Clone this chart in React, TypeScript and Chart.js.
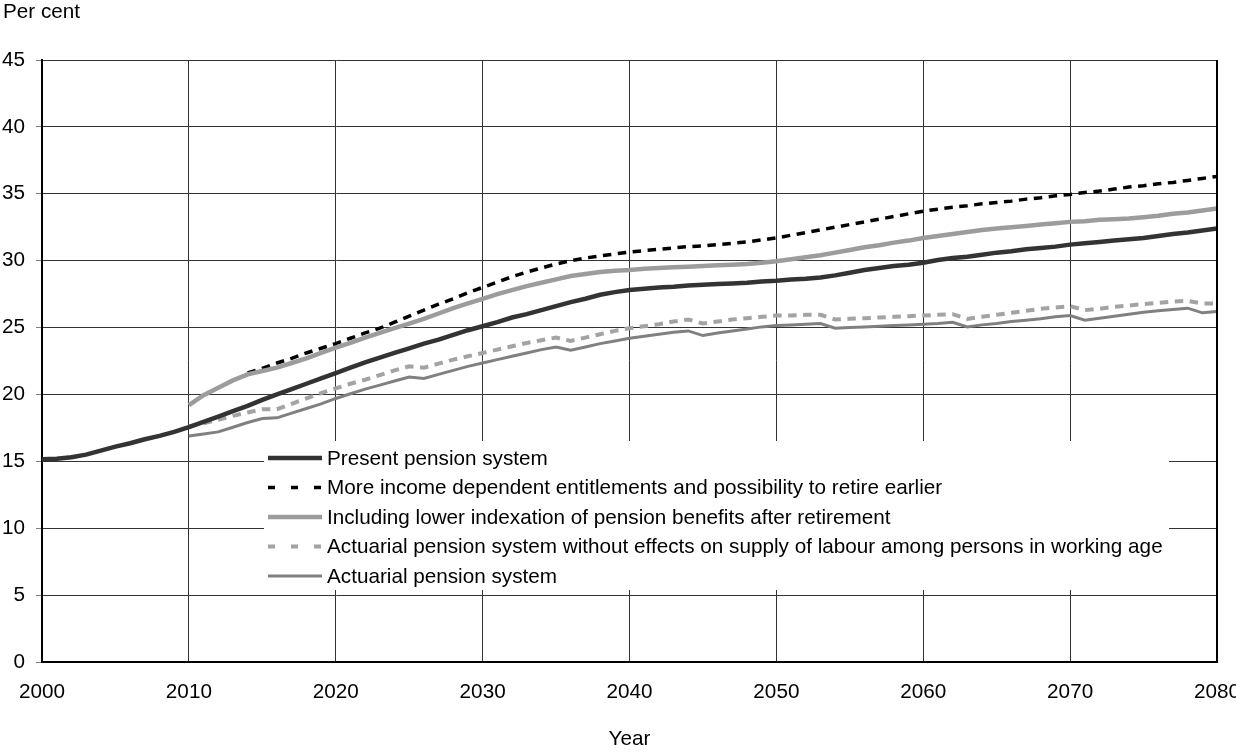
import React, { useEffect, useRef } from "react";
import { Chart, registerables } from "chart.js";

Chart.register(...registerables);

const FONT = "'Liberation Sans', Arial, Helvetica, sans-serif";
const FS = 20.7;

const YEARS: number[] = Array.from({ length: 81 }, (_, i) => 2000 + i);
const Y_TITLE = "Per cent";
const X_TITLE = "Year";
const Y_MIN = 0;
const Y_MAX = 45;
const Y_STEP = 5;
const X_STEP = 10;

const SERIES_NAMES = [
  "Present pension system",
  "More income dependent entitlements and possibility to retire earlier",
  "Including lower indexation of pension benefits after retirement",
  "Actuarial pension system without effects on supply of labour among persons in working age",
  "Actuarial pension system",
];

const N = null;

// 2000–2080
const PRESENT = [
  15.15, 15.2, 15.3, 15.5, 15.8, 16.1, 16.35, 16.65, 16.9, 17.2,
  17.55, 17.95, 18.35, 18.75, 19.15, 19.6, 20.0, 20.4, 20.8, 21.2,
  21.6, 22.0, 22.4, 22.75, 23.1, 23.45, 23.8, 24.1, 24.45, 24.8,
  25.1, 25.4, 25.75, 26.0, 26.3, 26.6, 26.9, 27.15, 27.45, 27.65,
  27.8, 27.9, 28.0, 28.05, 28.15, 28.2, 28.25, 28.3, 28.35, 28.45,
  28.5, 28.6, 28.65, 28.75, 28.9, 29.1, 29.3, 29.45, 29.6, 29.7,
  29.85, 30.05, 30.2, 30.3, 30.45, 30.6, 30.7, 30.85, 30.95, 31.05,
  31.2, 31.3, 31.4, 31.5, 31.6, 31.7, 31.85, 32.0, 32.1, 32.25,
  32.4,
];

const MORE_INCOME = [
  N, N, N, N, N, N, N, N, N, N,
  N, N, N, N, 21.6, 21.95, 22.35, 22.7, 23.1, 23.45,
  23.8, 24.2, 24.6, 24.95, 25.4, 25.85, 26.3, 26.75, 27.15, 27.6,
  28.0, 28.4, 28.8, 29.15, 29.45, 29.75, 30.0, 30.2, 30.35, 30.5,
  30.65, 30.75, 30.85, 30.95, 31.05, 31.1, 31.2, 31.3, 31.4, 31.55,
  31.7, 31.9, 32.1, 32.3, 32.5, 32.7, 32.9, 33.1, 33.3, 33.5,
  33.7, 33.85, 34.0, 34.1, 34.25, 34.35, 34.45, 34.6, 34.7, 34.85,
  34.95, 35.1, 35.2, 35.35, 35.5, 35.6, 35.75, 35.85, 36.0, 36.15,
  36.3,
];

const LOWER_INDEXATION = [
  N, N, N, N, N, N, N, N, N, N,
  19.2, 19.95, 20.5, 21.05, 21.5, 21.75, 22.0, 22.35, 22.7, 23.1,
  23.5, 23.85, 24.25, 24.6, 24.95, 25.3, 25.65, 26.05, 26.45, 26.8,
  27.15, 27.5, 27.8, 28.1, 28.35, 28.6, 28.85, 29.0, 29.15, 29.25,
  29.3, 29.4, 29.45, 29.5, 29.55, 29.6, 29.65, 29.7, 29.75, 29.85,
  29.95, 30.1, 30.25, 30.4, 30.6, 30.8, 31.0, 31.15, 31.35, 31.5,
  31.7, 31.85, 32.0, 32.15, 32.3, 32.4, 32.5, 32.6, 32.7, 32.8,
  32.9, 32.95, 33.05, 33.1, 33.15, 33.25, 33.35, 33.5, 33.6, 33.75,
  33.9,
];

const ACTUARIAL_NO_LABOUR = [
  N, N, N, N, N, N, N, N, N, N,
  17.6, 17.85, 18.1, 18.4, 18.65, 18.9, 18.9, 19.3, 19.7, 20.1,
  20.45, 20.8, 21.1, 21.45, 21.8, 22.1, 22.0, 22.3, 22.6, 22.85,
  23.1, 23.35, 23.6, 23.85, 24.05, 24.25, 24.0, 24.25, 24.5, 24.75,
  24.95, 25.1, 25.25, 25.45, 25.6, 25.3, 25.45, 25.6, 25.7, 25.8,
  25.9, 25.9, 25.95, 25.95, 25.6, 25.65, 25.7, 25.75, 25.8, 25.85,
  25.9, 25.95, 26.0, 25.65, 25.8, 25.95, 26.1, 26.25, 26.4, 26.5,
  26.6, 26.3, 26.4, 26.55, 26.65, 26.75, 26.85, 26.95, 27.0, 26.8,
  26.8,
];

const ACTUARIAL = [
  N, N, N, N, N, N, N, N, N, N,
  16.9, 17.05, 17.2, 17.55, 17.9, 18.2, 18.25, 18.6, 18.95, 19.3,
  19.7, 20.05, 20.4, 20.7, 21.0, 21.3, 21.2, 21.5, 21.8, 22.1,
  22.35, 22.6, 22.85, 23.1, 23.35, 23.55, 23.3, 23.55, 23.8, 24.0,
  24.2, 24.35, 24.5, 24.65, 24.75, 24.4, 24.6, 24.75, 24.9, 25.05,
  25.15, 25.2, 25.25, 25.3, 24.95, 25.0, 25.05, 25.1, 25.15, 25.2,
  25.25, 25.3, 25.4, 25.05, 25.2, 25.3, 25.45, 25.55, 25.65, 25.8,
  25.9, 25.55, 25.7, 25.85, 26.0, 26.15, 26.25, 26.35, 26.45, 26.1,
  26.2,
];

const toPoints = (vals: (number | null)[]) =>
  YEARS.map((x, i) => ({ x, y: vals[i] })).filter((p) => p.y !== null);

const DASH = [8.5, 6.5];

const overlayPlugin = {
  id: "overlay",
  afterDatasetsDraw(chart: any) {
    const { ctx, chartArea } = chart;
    ctx.save();
    // right frame line
    ctx.strokeStyle = "#000";
    ctx.lineWidth = 2;
    ctx.beginPath();
    ctx.moveTo(chartArea.right, chartArea.top);
    ctx.lineTo(chartArea.right, chartArea.bottom);
    ctx.stroke();

    // legend box (inside plot)
    const boxL = 264, boxT = 441, boxR = 1169, boxB = 590;
    ctx.fillStyle = "#fff";
    ctx.fillRect(boxL, boxT, boxR - boxL, boxB - boxT);
    const ds = chart.data.datasets;
    const rowY0 = 458;
    const rowH = 29.5;
    const sx0 = 268, sx1 = 322, tx = 327;
    ctx.font = `${FS}px ${FONT}`;
    ctx.textBaseline = "middle";
    ctx.textAlign = "left";
    ds.forEach((d: any, i: number) => {
      const y = rowY0 + i * rowH;
      ctx.save();
      ctx.strokeStyle = d.borderColor;
      ctx.lineWidth = d.borderWidth;
      ctx.lineCap = "butt";
      if (d.borderDash && d.borderDash.length) ctx.setLineDash([7, 16]);
      else ctx.setLineDash([]);
      ctx.beginPath();
      ctx.moveTo(sx0, y);
      ctx.lineTo(sx1, y);
      ctx.stroke();
      ctx.restore();
      ctx.fillStyle = "#000";
      ctx.fillText(d.label, tx, y + 1);
    });

    // y-axis caption
    ctx.textBaseline = "alphabetic";
    ctx.fillText(Y_TITLE, 3, 17.5);
    ctx.restore();
  },
};

export default function App() {
  const ref = useRef<HTMLCanvasElement | null>(null);
  useEffect(() => {
    if (!ref.current) return;
    const chart = new Chart(ref.current, {
      type: "line",
      data: {
        datasets: [
          {
            label: SERIES_NAMES[0],
            data: toPoints(PRESENT),
            borderColor: "#333333",
            borderWidth: 4.5,
            pointRadius: 0,
            tension: 0,
            order: 1,
          },
          {
            label: SERIES_NAMES[1],
            data: toPoints(MORE_INCOME),
            borderColor: "#000000",
            borderWidth: 3.5,
            borderDash: DASH,
            pointRadius: 0,
            tension: 0,
            order: 3,
          },
          {
            label: SERIES_NAMES[2],
            data: toPoints(LOWER_INDEXATION),
            borderColor: "#9c9c9c",
            borderWidth: 4.5,
            pointRadius: 0,
            tension: 0,
            order: 2,
          },
          {
            label: SERIES_NAMES[3],
            data: toPoints(ACTUARIAL_NO_LABOUR),
            borderColor: "#a3a3a3",
            borderWidth: 4,
            borderDash: DASH,
            pointRadius: 0,
            tension: 0,
            order: 5,
          },
          {
            label: SERIES_NAMES[4],
            data: toPoints(ACTUARIAL),
            borderColor: "#808080",
            borderWidth: 3,
            pointRadius: 0,
            tension: 0,
            order: 4,
          },
        ],
      },
      options: {
        responsive: false,
        animation: false,
        parsing: true,
        layout: { padding: { top: 60, right: 19, left: 0, bottom: 0 } },
        plugins: {
          legend: { display: false },
          tooltip: { enabled: false },
        },
        scales: {
          x: {
            type: "linear",
            min: 2000,
            max: 2080,
            ticks: {
              stepSize: X_STEP,
              autoSkip: false,
              maxRotation: 0,
              padding: 18,
              color: "#000",
              font: { family: FONT, size: FS },
              callback: (v: any) => String(v),
            },
            grid: { color: "#333333", lineWidth: 1, drawTicks: false },
            border: { display: true, color: "#000", width: 2 },
            title: {
              display: true,
              text: X_TITLE,
              color: "#000",
              font: { family: FONT, size: FS },
              padding: { top: 0, bottom: 1 },
            },
            afterFit: (s: any) => {
              s.height = 91;
              s.paddingLeft = 0;
              s.paddingRight = 0;
            },
          },
          y: {
            type: "linear",
            min: Y_MIN,
            max: Y_MAX,
            ticks: {
              stepSize: Y_STEP,
              padding: 11,
              color: "#000",
              font: { family: FONT, size: FS },
            },
            grid: { color: "#333333", lineWidth: 1, drawTicks: true, tickLength: 6, tickColor: "#808080" },
            border: { display: true, color: "#000", width: 2 },
            afterFit: (s: any) => {
              s.width = 42;
              s.paddingTop = 0;
              s.paddingBottom = 0;
            },
          },
        },
      },
      plugins: [overlayPlugin],
    } as any);
    return () => chart.destroy();
  }, []);

  return (
    <div style={{ position: "fixed", left: 0, top: 0, width: 1236, height: 753, background: "#fff" }}>
      <canvas ref={ref} width={1236} height={753} style={{ display: "block", width: 1236, height: 753 }} />
    </div>
  );
}
